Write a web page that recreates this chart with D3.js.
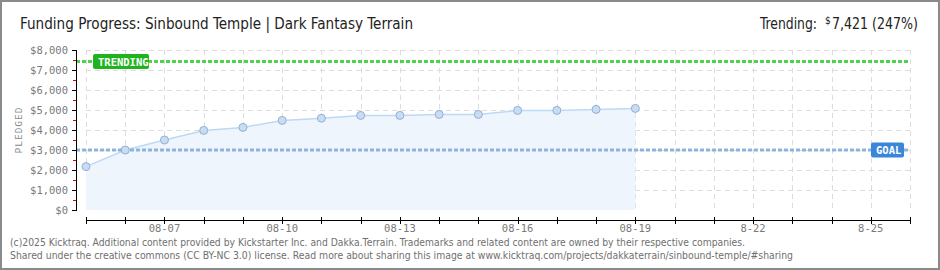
<!DOCTYPE html>
<html>
<head>
<meta charset="utf-8">
<script src="https://cdn.jsdelivr.net/npm/d3@7"></script>
<style>
  body { margin: 0; background: #fff; }
  svg { display: block; }
  .tick-lbl { font-family: "DejaVu Sans Mono", monospace; font-size: 10.5px; fill: #7a7a7a; }
  .foot { font-family: "DejaVu Sans", sans-serif; font-size: 10px; fill: #6f6f6f; }
  .ttl { font-family: "Liberation Sans Narrow", "DejaVu Sans Condensed", sans-serif; font-size: 16px; fill: #222; }
</style>
</head>
<body>
<svg id="chart" width="940" height="270"></svg>
<script>
// daily pledged totals
var days = ["08-05","08-06","08-07","08-08","08-09","08-10","08-11","08-12","08-13","08-14","08-15","08-16","08-17","08-18","08-19"];
var pledged = [2170, 3000, 3500, 3980, 4130, 4480, 4590, 4730, 4730, 4780, 4780, 4980, 4980, 5030, 5080];
var tickLabels = [{day: 2, text: "08-07"}, {day: 5, text: "08-10"}, {day: 8, text: "08-13"}, {day: 11, text: "08-16"},
                  {day: 14, text: "08-19"}, {day: 17, text: "8-22"}, {day: 20, text: "8-25"}];
var totalDays = 21;
var goal = 3000;
var trending = 7421;
var yTicks = [0, 1000, 2000, 3000, 4000, 5000, 6000, 7000, 8000];

var svg = d3.select("#chart");
var W = 940, H = 270;
var margin = {top: 50, right: 30, bottom: 60, left: 86};

var x = d3.scaleLinear().domain([0, totalDays]).range([margin.left, W - margin.right]);
var y = d3.scaleLinear().domain([0, 8000]).range([H - margin.bottom, margin.top]);

// outer frame
svg.append("rect").attr("x", 1).attr("y", 1).attr("width", W - 2).attr("height", H - 2)
  .attr("fill", "none").attr("stroke", "#8a8a8a").attr("stroke-width", 2);

// title
svg.append("text").attr("class", "ttl").attr("x", 20).attr("y", 29)
  .attr("textLength", 393).attr("lengthAdjust", "spacingAndGlyphs")
  .text("Funding Progress: Sinbound Temple | Dark Fantasy Terrain");
svg.append("text").attr("class", "ttl").attr("x", 760).attr("y", 29)
  .attr("textLength", 57).attr("lengthAdjust", "spacingAndGlyphs").text("Trending:");
svg.append("text").attr("class", "ttl").attr("x", 825).attr("y", 24)
  .style("font-size", "10px").text("$");
svg.append("text").attr("class", "ttl").attr("x", 918).attr("y", 29).attr("text-anchor", "end")
  .attr("textLength", 86).attr("lengthAdjust", "spacingAndGlyphs").text("7,421 (247%)");

// grid
var grid = svg.append("g").attr("stroke", "#dddddd").attr("stroke-dasharray", "5,4").attr("stroke-width", 1);
grid.selectAll("line.h").data(yTicks.slice(1)).enter().append("line")
  .attr("x1", x(0)).attr("x2", x(totalDays))
  .attr("y1", function(d) { return y(d) + 0.5; }).attr("y2", function(d) { return y(d) + 0.5; });
grid.selectAll("line.v").data(d3.range(0, totalDays + 1)).enter().append("line")
  .attr("y1", y(8000)).attr("y2", y(0))
  .attr("x1", function(d) { return Math.round(x(d)) + 0.5; }).attr("x2", function(d) { return Math.round(x(d)) + 0.5; });

// area + line
var pts = pledged.map(function(v, i) { return [i, v]; });
svg.append("path").datum(pts)
  .attr("d", d3.area().x(function(d) { return x(d[0]); }).y0(y(0)).y1(function(d) { return y(d[1]); }))
  .attr("fill", "#eef5fd");
svg.append("path").datum(pts)
  .attr("d", d3.line().x(function(d) { return x(d[0]); }).y(function(d) { return y(d[1]); }))
  .attr("fill", "none").attr("stroke", "#bcd9f5").attr("stroke-width", 1.5);

// goal & trending lines
svg.append("line").attr("x1", x(0) - 10).attr("x2", x(totalDays)).attr("y1", y(goal)).attr("y2", y(goal))
  .attr("stroke", "#8fb3dd").attr("stroke-width", 3).attr("stroke-dasharray", "4,2");
svg.append("line").attr("x1", x(0) - 10).attr("x2", x(totalDays)).attr("y1", y(trending)).attr("y2", y(trending))
  .attr("stroke", "#4fd24f").attr("stroke-width", 3).attr("stroke-dasharray", "4,2");

// points
svg.selectAll("circle.pt").data(pts).enter().append("circle")
  .attr("cx", function(d) { return x(d[0]); }).attr("cy", function(d) { return y(d[1]); })
  .attr("r", 4).attr("fill", "#c6ddf6").attr("stroke", "#98aecb").attr("stroke-width", 1);

// labels on reference lines
function badge(cx, cy, w, fill, label) {
  var g = svg.append("g");
  g.append("rect").attr("x", cx).attr("y", cy - 7.5).attr("width", w).attr("height", 15)
    .attr("rx", 2).attr("fill", fill);
  g.append("text").attr("x", cx + 5).attr("y", cy + 4)
    .style("font-family", "'DejaVu Sans Mono', monospace").style("font-size", "10.5px")
    .style("font-weight", "bold").style("fill", "#fff").text(label);
}
badge(93, y(trending), 56, "#1fb41f", "TRENDING");
badge(871, y(goal), 33, "#3a87d9", "GOAL");

// y axis
var yAxisX = 76;
svg.append("line").attr("x1", yAxisX + 0.5).attr("x2", yAxisX + 0.5).attr("y1", y(8000)).attr("y2", y(0) + 1)
  .attr("stroke", "#000");
svg.selectAll("line.ymaj").data(yTicks).enter().append("line")
  .attr("x1", yAxisX - 4).attr("x2", yAxisX)
  .attr("y1", function(d) { return y(d) + 0.5; }).attr("y2", function(d) { return y(d) + 0.5; })
  .attr("stroke", "#000");
svg.selectAll("line.ymin").data(yTicks.slice(1).map(function(d) { return d - 500; })).enter().append("line")
  .attr("x1", yAxisX - 3).attr("x2", yAxisX)
  .attr("y1", function(d) { return y(d) + 0.5; }).attr("y2", function(d) { return y(d) + 0.5; })
  .attr("stroke", "#e00000");
svg.selectAll("text.ylbl").data(yTicks).enter().append("text")
  .attr("class", "tick-lbl").attr("text-anchor", "end")
  .attr("x", yAxisX - 8).attr("y", function(d) { return y(d) + 4; })
  .text(function(d) { return "$" + d3.format(",")(d); });
svg.append("text").attr("transform", "translate(22," + y(4000) + ") rotate(-90)")
  .attr("text-anchor", "middle")
  .style("font-family", "'DejaVu Sans Mono', monospace").style("font-size", "9.5px").style("fill", "#888")
  .style("letter-spacing", "1px").text("PLEDGED");

// x axis
var xAxisY = 220;
svg.append("line").attr("x1", x(0)).attr("x2", x(totalDays)).attr("y1", xAxisY + 0.5).attr("y2", xAxisY + 0.5)
  .attr("stroke", "#000");
svg.selectAll("line.xt").data(d3.range(0, totalDays + 1)).enter().append("line")
  .attr("x1", function(d) { return Math.round(x(d)) + 0.5; }).attr("x2", function(d) { return Math.round(x(d)) + 0.5; })
  .attr("y1", xAxisY - 3).attr("y2", xAxisY + 4).attr("stroke", "#000");
svg.selectAll("text.xlbl").data(tickLabels).enter().append("text")
  .attr("class", "tick-lbl").attr("text-anchor", "middle")
  .attr("x", function(d) { return x(d.day); }).attr("y", xAxisY + 12)
  .text(function(d) { return d.text; });

// footer
svg.append("text").attr("class", "foot").attr("x", 10).attr("y", 246)
  .attr("textLength", 735).attr("lengthAdjust", "spacingAndGlyphs")
  .text("(c)2025 Kicktraq. Additional content provided by Kickstarter Inc. and Dakka.Terrain. Trademarks and related content are owned by their respective companies.");
svg.append("text").attr("class", "foot").attr("x", 10).attr("y", 259)
  .attr("textLength", 783).attr("lengthAdjust", "spacingAndGlyphs")
  .text("Shared under the creative commons (CC BY-NC 3.0) license. Read more about sharing this image at www.kicktraq.com/projects/dakkaterrain/sinbound-temple/#sharing");
</script>
</body>
</html>
